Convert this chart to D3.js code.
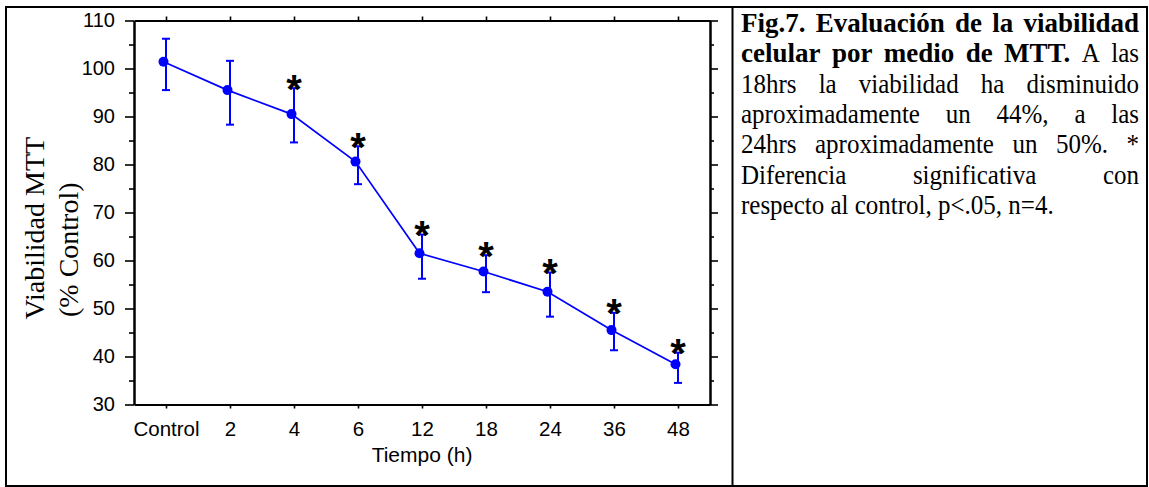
<!DOCTYPE html>
<html>
<head>
<meta charset="utf-8">
<script src="https://cdn.jsdelivr.net/npm/d3@7"></script>
<style>
  body { margin: 0; background: #fff; }
  svg { display: block; }
</style>
</head>
<body>
<svg width="1149" height="487"></svg>
<script>
// Time points (h) and viability (% of control)
const categories = ["Control", "2", "4", "6", "12", "18", "24", "36", "48"];
const means      = [101.4, 95.5, 90.5, 80.6, 61.5, 57.7, 53.5, 45.5, 38.4];
const errUpper   = [106.2, 101.6, 95.9, 83.8, 65.4, 61.1, 57.5, 49.1, 40.8];
const errLower   = [95.5, 88.3, 84.6, 75.9, 56.2, 53.4, 48.3, 41.3, 34.5];
const significant = [false, false, true, true, true, true, true, true, true];
const majorTicks = [30, 40, 50, 60, 70, 80, 90, 100, 110];
const minorTicks = [35, 45, 55, 65, 75, 85, 95, 105];

// Caption lines (number of leading bold words per line)
const captionLines = [
  "Fig.7. Evaluación de la viabilidad",
  "celular por medio de MTT. A las",
  "18hrs la viabilidad ha disminuido",
  "aproximadamente un 44%, a las",
  "24hrs aproximadamente un 50%. *",
  "Diferencia significativa con",
  "respecto al control, p<.05, n=4."
];
const captionBold = [5, 5, 0, 0, 0, 0, 0];

const sans = "'Liberation Sans', Arial, sans-serif";
const serif = "'Liberation Serif', 'Times New Roman', serif";
const blue = "#0000ff";

const svg = d3.select("svg");

// outer frame and divider
svg.append("rect")
    .attr("x", 6).attr("y", 7).attr("width", 1141).attr("height", 479)
    .attr("fill", "none").attr("stroke", "#000").attr("stroke-width", 2);
svg.append("line")
    .attr("x1", 732.5).attr("x2", 732.5).attr("y1", 7).attr("y2", 486)
    .attr("stroke", "#000").attr("stroke-width", 2);

// scales
const plotLeft = 134, plotRight = 710, plotTop = 20.5, plotBottom = 404.5;
const x = d3.scalePoint().domain(categories).range([plotLeft, plotRight]).padding(0.5);
const y = d3.scaleLinear().domain([30, 110]).range([plotBottom, plotTop]);

function styleAxis(g) {
  g.select(".domain").attr("stroke-width", 2);
  g.selectAll(".tick line").attr("stroke-width", 1.6);
  g.selectAll("text").attr("font-family", sans).attr("font-size", 20).attr("fill", "#000");
}

// left axis
svg.append("g").attr("transform", `translate(${plotLeft},0)`)
    .call(d3.axisLeft(y).tickValues(majorTicks).tickSize(9).tickSizeOuter(0).tickPadding(10))
    .call(styleAxis);
svg.append("g").attr("transform", `translate(${plotLeft},0)`)
    .call(d3.axisLeft(y).tickValues(minorTicks).tickSize(5).tickSizeOuter(0).tickFormat(""))
    .call(styleAxis);

// right axis
svg.append("g").attr("transform", `translate(${plotRight},0)`)
    .call(d3.axisRight(y).tickValues(majorTicks).tickSize(8).tickSizeOuter(0).tickFormat(""))
    .call(styleAxis);
svg.append("g").attr("transform", `translate(${plotRight},0)`)
    .call(d3.axisRight(y).tickValues(minorTicks).tickSize(4).tickSizeOuter(0).tickFormat(""))
    .call(styleAxis);

// bottom and top axes
svg.append("g").attr("transform", `translate(0,${plotBottom})`)
    .call(d3.axisBottom(x).tickSize(4).tickSizeOuter(0).tickPadding(13))
    .call(styleAxis)
    .call(g => g.selectAll("text").attr("font-size", 20.5));
svg.append("g").attr("transform", `translate(0,${plotTop})`)
    .call(d3.axisTop(x).tickSize(4).tickSizeOuter(0).tickFormat(""))
    .call(styleAxis);

// axis titles
svg.append("text")
    .attr("x", (plotLeft + plotRight) / 2).attr("y", 461.5)
    .attr("text-anchor", "middle")
    .attr("font-family", sans).attr("font-size", 21)
    .text("Tiempo (h)");

const yTitle = svg.append("g").attr("transform", "rotate(-90)");
yTitle.append("text")
    .attr("x", -319.5).attr("y", 44)
    .attr("font-family", serif).attr("font-size", 28)
    .text("Viabilidad MTT");
yTitle.append("text")
    .attr("x", -317).attr("y", 78)
    .attr("font-family", serif).attr("font-size", 28)
    .text("(% Control)");

// data
const data = categories.map((c, i) => ({
  cat: c, mean: means[i], hi: errUpper[i], lo: errLower[i], sig: significant[i]
}));

const dotShift = -2.5;

// error bars
const eb = svg.append("g").attr("stroke", blue).attr("stroke-width", 2).attr("fill", "none");
data.forEach(d => {
  const cx = x(d.cat);
  eb.append("line").attr("x1", cx).attr("x2", cx).attr("y1", y(d.hi)).attr("y2", y(d.lo));
  eb.append("line").attr("x1", cx - 4).attr("x2", cx + 4).attr("y1", y(d.hi)).attr("y2", y(d.hi));
  eb.append("line").attr("x1", cx - 4).attr("x2", cx + 4).attr("y1", y(d.lo)).attr("y2", y(d.lo));
});

// line
svg.append("path")
    .datum(data)
    .attr("fill", "none").attr("stroke", blue).attr("stroke-width", 1.7)
    .attr("d", d3.line().x(d => x(d.cat) + dotShift).y(d => y(d.mean)));

// points
svg.selectAll(".dot")
  .data(data)
  .enter().append("circle")
    .attr("class", "dot")
    .attr("cx", d => x(d.cat) + dotShift)
    .attr("cy", d => y(d.mean))
    .attr("r", 5)
    .attr("fill", blue);

// significance asterisks
svg.selectAll(".star")
  .data(data.filter(d => d.sig))
  .enter().append("text")
    .attr("class", "star")
    .attr("x", d => x(d.cat))
    .attr("y", d => y(d.hi) - 2.5 + 17)
    .attr("text-anchor", "middle")
    .attr("font-family", sans).attr("font-weight", "bold").attr("font-size", 40)
    .text("*");

// caption, justified
const capLeft = 741, capRight = 1139;
captionLines.forEach((line, i) => {
  const words = line.split(" ");
  const baseline = 31.7 + i * 30.4;
  const items = words.map((w, j) => {
    const bold = j < captionBold[i];
    const t = svg.append("text")
        .attr("font-family", serif)
        .attr("font-size", bold ? 27 : 25)
        .attr("font-weight", bold ? "bold" : "normal")
        .text(w);
    return { t, bold, w: t.node().getComputedTextLength() };
  });
  const total = d3.sum(items, d => d.w);
  const last = i === captionLines.length - 1;
  const gap = last ? 6.2 : (capRight - capLeft - total) / (items.length - 1);
  let cx = capLeft;
  items.forEach(d => {
    d.t.attr("transform", `translate(${cx},${baseline})` + (d.bold ? "" : " scale(1,1.09)"));
    cx += d.w + gap;
  });
});
</script>
</body>
</html>
